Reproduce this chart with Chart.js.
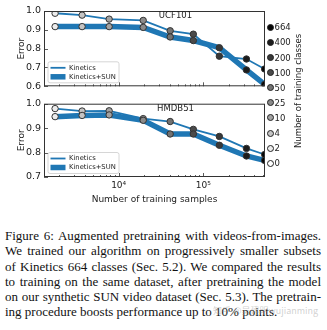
<!DOCTYPE html>
<html>
<head>
<meta charset="utf-8">
<script src="https://cdn.jsdelivr.net/npm/chart.js@4.4.1/dist/chart.umd.min.js"></script>
<style>
  html, body { margin: 0; padding: 0; background: #fff; }
  #wrap { position: relative; width: 327px; height: 330px; overflow: hidden; background: #fff; }
  #top { position: absolute; left: 0; top: 0; }
  #bottom { position: absolute; left: 0; top: 95px; }
  .cls { position: absolute; left: 267px; height: 10px; font: 8.5px "DejaVu Sans"; color: #222; line-height: 10px; white-space: nowrap; }
  .cls i { display: inline-block; width: 5px; height: 5px; border: 1px solid #222; border-radius: 50%; vertical-align: -0.5px; margin-right: 0.5px; }
  #clsTitle { position: absolute; left: 298px; top: 91px; font: 8.5px "DejaVu Sans"; color: #222; white-space: nowrap; transform: translate(-50%, -50%) rotate(-90deg); }
  #caption { position: absolute; left: 5px; top: 228px; width: 316px; font: 13px "Liberation Serif"; line-height: 15.3px; color: #111; }
  #caption div { text-align: justify; text-align-last: justify; white-space: nowrap; }
  #caption div.last { text-align: left; text-align-last: left; }
  #mark { position: absolute; left: 213px; top: 304px; font: 9px "Noto Sans CJK SC"; color: rgba(150,150,150,0.45); white-space: nowrap; }
</style>
</head>
<body>
<div id="wrap">
  <canvas id="top" width="327" height="95"></canvas>
  <canvas id="bottom" width="327" height="110"></canvas>
  <div id="classLegend"></div>
  <div id="clsTitle">Number of training classes</div>
  <div id="caption">
    <div>Figure 6: Augmented pretraining with videos-from-images.</div>
    <div>We trained our algorithm on progressively smaller subsets</div>
    <div>of Kinetics 664 classes (Sec. 5.2). We compared the results</div>
    <div>to training on the same dataset, after pretraining the model</div>
    <div>on our synthetic SUN video dataset (Sec. 5.3). The pretrain-</div>
    <div class="last">ing procedure boosts performance up to 10% points.</div>
  </div>
  <div id="mark">知乎 @吴建明wujianming</div>
</div>
<script>
// data
const samples = [1775, 3700, 7720, 19500, 40600, 76200, 154600, 323000, 530000];
const classes = [2, 4, 10, 25, 50, 100, 200, 400, 664];

const ucfKinetics    = [0.988, 0.978, 0.957, 0.950, 0.895, 0.877, 0.760, 0.745, 0.692];
const ucfKineticsSun = [0.917, 0.917, 0.917, 0.913, 0.862, 0.843, 0.805, 0.687, 0.610];
const hmdbKinetics    = [0.980, 0.970, 0.971, 0.939, 0.927, 0.895, 0.866, 0.817, 0.792];
const hmdbKineticsSun = [0.947, 0.952, 0.954, 0.932, 0.876, 0.876, 0.830, 0.786, 0.768];

const legendClasses = [664, 400, 200, 100, 50, 25, 10, 4, 2, 0];
const ucfTicks = [0.6, 0.7, 0.8, 0.9, 1.0];
const hmdbTicks = [0.7, 0.8, 0.9, 1.0];
const xTickValues = [1e4, 1e5];
const xTickLabels = ['10⁴', '10⁵'];
const xMin = 1313, xMax = 535000;

// styles
const grays = ['#050505', '#1c1c1c', '#383838', '#4a4a4a', '#727272', '#8a8a8a', '#a2a2a2', '#c4c4c4', '#ececec', '#ffffff'];
const blue = '#1f77b4';
const ink = '#222';
const grayFor = c => grays[legendClasses.indexOf(c)];

// class legend on the right
const classLegend = document.querySelector('#classLegend');
legendClasses.forEach((c, i) => {
    const row = document.createElement('div');
    row.className = 'cls';
    row.style.top = (22.3 + i * 15.1) + 'px';
    row.innerHTML = `<i style="background:${grayFor(c)}"></i>${c}`;
    classLegend.appendChild(row);
});

// box, inward ticks, panel name and legend
const frame = {
    id: 'frame',
    afterDatasetsDraw(chart, args, opts) {
        const {ctx, chartArea: a, scales: {x, y}} = chart;
        ctx.save();
        ctx.strokeStyle = '#333';
        ctx.lineWidth = 1;
        ctx.strokeRect(a.left + 0.5, a.top + 0.5, a.right - a.left - 1, a.bottom - a.top - 1);

        ctx.lineWidth = 0.8;
        ctx.beginPath();
        for (let d = Math.floor(Math.log10(x.min)); d <= Math.ceil(Math.log10(x.max)); d++) {
            for (let k = 1; k < 10; k++) {
                const v = k * Math.pow(10, d);
                if (v < x.min || v > x.max) continue;
                const px = Math.round(x.getPixelForValue(v)) + 0.5;
                ctx.moveTo(px, a.bottom);
                ctx.lineTo(px, a.bottom - (k === 1 ? 4 : 2));
            }
        }
        y.ticks.forEach(t => {
            const py = Math.round(y.getPixelForValue(t.value)) + 0.5;
            ctx.moveTo(a.left, py);
            ctx.lineTo(a.left + 4, py);
        });
        ctx.stroke();

        ctx.fillStyle = ink;
        ctx.font = '8.5px "DejaVu Sans"';
        ctx.textAlign = 'center';
        ctx.textBaseline = 'middle';
        ctx.fillText(opts.name, a.left + 0.595 * (a.right - a.left), a.top + 5);

        // legend box
        const bx = a.left + 4, bh = 21, by = a.bottom - 3.5 - bh, bw = 71;
        ctx.fillStyle = 'rgba(255,255,255,0.85)';
        ctx.strokeStyle = '#ccc';
        ctx.lineWidth = 0.8;
        ctx.beginPath();
        ctx.roundRect(bx, by, bw, bh, 2);
        ctx.fill();
        ctx.stroke();
        chart.data.datasets.filter(d => d.showLine !== false).forEach((d, i) => {
            const ly = by + 6 + i * 9;
            ctx.strokeStyle = d.borderColor;
            ctx.lineWidth = d.borderWidth;
            ctx.beginPath();
            ctx.moveTo(bx + 2.5, ly);
            ctx.lineTo(bx + 17.5, ly);
            ctx.stroke();
            ctx.fillStyle = ink;
            ctx.font = '6.8px "DejaVu Sans"';
            ctx.textAlign = 'left';
            ctx.fillText(d.label, bx + 21, ly);
        });
        ctx.restore();
    }
};

const makePanel = (id, name, kin, kinSun, yTicks, isBottom) => {
    const pts = vals => samples.map((s, i) => ({x: s, y: vals[i]}));
    const markerColors = classes.map(grayFor);
    return new Chart(document.querySelector(id).getContext('2d'), {
        type: 'line',
        data: {
            datasets: [
                {label: 'Kinetics', data: pts(kin), borderColor: blue, borderWidth: 1.8, pointRadius: 0, clip: 0, order: 4},
                {label: 'Kinetics+SUN', data: pts(kinSun), borderColor: blue, borderWidth: 5.5, pointRadius: 0, clip: 0, order: 3},
                {label: 'k-pts', data: pts(kin), showLine: false, pointRadius: 3.2, pointBorderWidth: 1,
                    pointBorderColor: '#333', pointBackgroundColor: markerColors, clip: 0, order: 2},
                {label: 's-pts', data: pts(kinSun), showLine: false, pointRadius: 3.2, pointBorderWidth: 1,
                    pointBorderColor: '#333', pointBackgroundColor: markerColors, clip: 0, order: 1}
            ]
        },
        options: {
            responsive: false,
            animation: false,
            devicePixelRatio: 1,
            layout: {padding: {top: isBottom ? 3 : 11, right: 62, bottom: isBottom ? 0 : 6, left: 0}},
            plugins: {legend: {display: false}, tooltip: {enabled: false}, frame: {name: name}},
            scales: {
                x: {
                    type: 'logarithmic',
                    min: xMin,
                    max: xMax,
                    grid: {display: false, drawTicks: false},
                    border: {display: false},
                    afterBuildTicks: s => { s.ticks = xTickValues.map(v => ({value: v})); },
                    ticks: {
                        display: isBottom, autoSkip: false, maxRotation: 0, padding: 3, color: ink,
                        font: {family: 'DejaVu Sans', size: 9},
                        callback: (v, i) => xTickLabels[i]
                    },
                    title: {
                        display: isBottom, text: 'Number of training samples', color: ink,
                        font: {family: 'DejaVu Sans', size: 9}, padding: 0
                    },
                    afterFit: s => { s.height = isBottom ? 28 : 0; }
                },
                y: {
                    min: yTicks[0],
                    max: yTicks[yTicks.length - 1],
                    grid: {display: false, drawTicks: false},
                    border: {display: false},
                    afterBuildTicks: s => { s.ticks = yTicks.map(v => ({value: v})); },
                    ticks: {
                        padding: 3, color: ink, font: {family: 'DejaVu Sans', size: 9.5},
                        callback: v => v.toFixed(1)
                    },
                    title: {
                        display: true, text: 'Error', color: ink,
                        font: {family: 'DejaVu Sans', size: 9}, padding: {top: 16, bottom: 0}
                    },
                    afterFit: s => { s.width = 44; }
                }
            }
        },
        plugins: [frame]
    });
};

const ucfChart = makePanel('#top', 'UCF101', ucfKinetics, ucfKineticsSun, ucfTicks, false);
const hmdbChart = makePanel('#bottom', 'HMDB51', hmdbKinetics, hmdbKineticsSun, hmdbTicks, true);
</script>
</body>
</html>
